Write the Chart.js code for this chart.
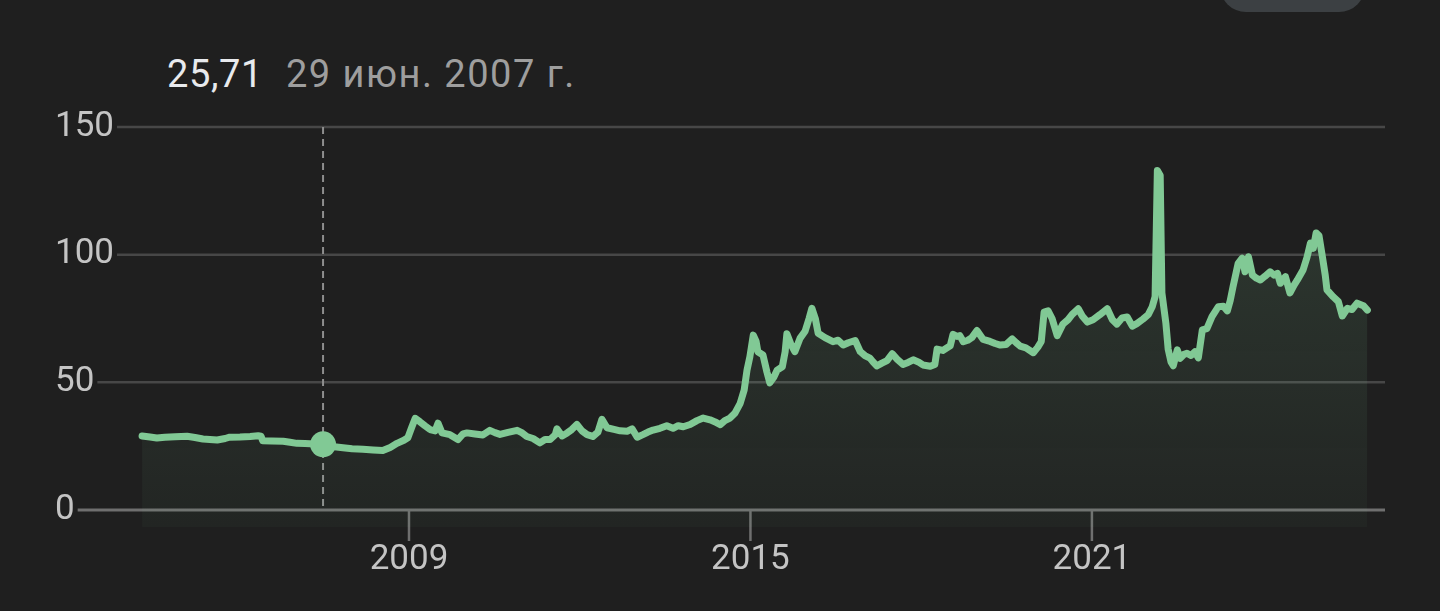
<!DOCTYPE html>
<html>
<head>
<meta charset="utf-8">
<script src="https://cdn.jsdelivr.net/npm/chart.js@4"></script>
<style>
  body { margin: 0; background: #1f1f1f; }
  #wrap { position: relative; width: 1440px; height: 611px; overflow: hidden; font-family: Roboto, sans-serif; }
  .pill { position: absolute; left: 1220px; top: -40px; width: 145px; height: 52px; border-radius: 26px; background: #3c4043; }
  .head { position: absolute; left: 167px; top: 52px; font-size: 38px; line-height: 44px; white-space: nowrap; }
  .head .val { color: #e8eaed; letter-spacing: 0.6px; }
  .head .date { color: #9e9e9e; margin-left: 23px; letter-spacing: 1.5px; }
  canvas { position: absolute; left: 0; top: 0; }
</style>
</head>
<body>
<div id="wrap">
  <div class="pill"></div>
  <div class="head"><span class="val" id="sel-val"></span><span class="date" id="sel-date"></span></div>
  <canvas id="chart" width="1440" height="611"></canvas>
</div>
<script>
// USD/RUB (decimal years)
const years = [
  2004.31, 2004.45, 2004.57, 2004.71, 2004.89, 2005.10, 2005.24, 2005.38, 2005.50, 2005.63,
  2005.77, 2005.85, 2006.03, 2006.21, 2006.35, 2006.40, 2006.43, 2006.59, 2006.79, 2006.91,
  2007.03, 2007.17, 2007.35, 2007.49, 2007.61, 2007.84, 2008.00, 2008.19, 2008.37, 2008.54,
  2008.67, 2008.79, 2008.91, 2008.98, 2009.05, 2009.11, 2009.19, 2009.28, 2009.37, 2009.46,
  2009.51, 2009.58, 2009.72, 2009.86, 2009.95, 2010.02, 2010.16, 2010.30, 2010.42, 2010.51,
  2010.60, 2010.74, 2010.90, 2010.99, 2011.07, 2011.18, 2011.30, 2011.39, 2011.48, 2011.57,
  2011.60, 2011.69, 2011.78, 2011.86, 2011.95, 2012.04, 2012.13, 2012.23, 2012.32, 2012.39,
  2012.48, 2012.62, 2012.71, 2012.83, 2012.92, 2013.01, 2013.11, 2013.20, 2013.29, 2013.41,
  2013.53, 2013.64, 2013.73, 2013.82, 2013.94, 2014.06, 2014.17, 2014.29, 2014.38, 2014.47,
  2014.55, 2014.64, 2014.73, 2014.82, 2014.89, 2014.94, 2014.99, 2015.05, 2015.10, 2015.13,
  2015.22, 2015.29, 2015.34, 2015.41, 2015.47, 2015.56, 2015.61, 2015.64, 2015.71, 2015.78,
  2015.87, 2015.96, 2016.03, 2016.08, 2016.14, 2016.19, 2016.31, 2016.45, 2016.54, 2016.63,
  2016.72, 2016.84, 2016.93, 2017.01, 2017.10, 2017.15, 2017.22, 2017.31, 2017.40, 2017.49,
  2017.58, 2017.68, 2017.77, 2017.86, 2017.95, 2018.03, 2018.16, 2018.24, 2018.28, 2018.38,
  2018.51, 2018.56, 2018.63, 2018.68, 2018.74, 2018.82, 2018.89, 2018.98, 2019.09, 2019.21,
  2019.30, 2019.39, 2019.49, 2019.60, 2019.67, 2019.74, 2019.84, 2019.97, 2020.05, 2020.11,
  2020.16, 2020.23, 2020.30, 2020.39, 2020.49, 2020.58, 2020.65, 2020.76, 2020.83, 2020.92,
  2021.02, 2021.14, 2021.27, 2021.36, 2021.44, 2021.53, 2021.62, 2021.71, 2021.79, 2021.90,
  2021.99, 2022.06, 2022.11, 2022.15, 2022.20, 2022.23, 2022.30, 2022.34, 2022.39, 2022.43,
  2022.50, 2022.55, 2022.62, 2022.67, 2022.74, 2022.81, 2022.87, 2022.94, 2023.02, 2023.11,
  2023.22, 2023.31, 2023.38, 2023.43, 2023.48, 2023.57, 2023.64, 2023.69, 2023.75, 2023.82,
  2023.89, 2023.96, 2024.04, 2024.13, 2024.20, 2024.26, 2024.31, 2024.40, 2024.48, 2024.55,
  2024.61, 2024.71, 2024.78, 2024.84, 2024.89, 2024.94, 2024.99, 2025.05, 2025.10, 2025.13,
  2025.24, 2025.33, 2025.40, 2025.49, 2025.57, 2025.66, 2025.77, 2025.84
];
const rates = [
  29.0, 28.6, 28.2, 28.5, 28.7, 28.9, 28.4, 27.8, 27.6, 27.4,
  28.0, 28.5, 28.6, 28.8, 29.1, 28.9, 27.1, 27.0, 26.9, 26.5,
  26.1, 26.0, 25.8, 25.71, 25.0, 24.4, 24.0, 23.8, 23.5, 23.3,
  24.5, 26.1, 27.3, 28.3, 32.5, 35.9, 34.6, 33.0, 31.5, 31.0,
  34.0, 30.2, 29.5, 27.6, 29.8, 30.2, 29.8, 29.4, 31.2, 30.3,
  29.6, 30.4, 31.2, 30.2, 28.8, 28.0, 26.3, 27.6, 27.6, 29.5,
  31.8, 29.0, 30.2, 31.5, 33.5, 31.0, 29.5, 28.8, 30.5, 35.5,
  32.2, 31.5, 31.0, 30.8, 31.8, 28.5, 29.5, 30.5, 31.3, 32.0,
  33.0, 32.0, 33.0, 32.6, 33.5, 35.0, 36.0, 35.3, 34.5, 33.4,
  35.0, 36.0, 38.0, 41.8, 47.0, 54.8, 60.0, 68.5, 66.0, 62.0,
  60.7, 54.0, 49.8, 52.0, 54.8, 56.1, 62.0, 69.0, 65.0, 62.0,
  67.2, 70.0, 75.0, 79.0, 75.0, 69.2, 67.5, 65.9, 66.5, 64.6,
  65.5, 66.4, 62.0, 60.5, 59.5, 58.1, 56.4, 57.5, 58.5, 61.2,
  59.0, 57.0, 57.8, 58.8, 58.0, 56.8, 56.3, 57.0, 63.0, 62.5,
  64.3, 68.8, 68.0, 68.3, 65.9, 66.5, 67.5, 70.3, 66.8, 66.0,
  65.2, 64.6, 64.8, 67.0, 65.5, 64.2, 63.5, 61.6, 63.8, 66.0,
  77.5, 78.0, 75.0, 68.3, 72.8, 74.5, 76.5, 78.8, 76.0, 73.6,
  74.5, 76.5, 78.8, 74.5, 72.8, 75.2, 75.6, 72.0, 73.0, 74.8,
  76.5, 79.6, 83.5, 133.0, 131.0, 85.0, 73.1, 63.0, 58.0, 56.5,
  62.7, 59.4, 61.0, 61.4, 60.5, 62.0, 59.6, 70.5, 71.0, 75.7,
  79.6, 79.8, 78.0, 82.0, 87.5, 96.6, 98.6, 93.3, 99.2, 92.0,
  90.8, 90.1, 91.5, 93.3, 92.0, 92.7, 88.8, 91.4, 85.0, 88.0,
  90.1, 94.0, 99.0, 104.5, 102.5, 108.5, 107.5, 99.2, 92.0, 86.2,
  83.5, 81.6, 76.0, 79.0, 78.5, 81.0, 80.0, 78.3
];
const yTicks = [0, 50, 100, 150];
const xTicks = [2009, 2015, 2021];
const selYear = 2007.49;
const selRate = 25.71;
const selText = '25,71';
const selDate = '29 июн. 2007 г.';

document.getElementById('sel-val').textContent = selText;
document.getElementById('sel-date').textContent = selDate;

const lineColor = '#81c995';

// grid, axis labels, ticks and the hover marker drawn through the scales
const decor = {
  id: 'decor',
  beforeDatasetsDraw(chart) {
    const { ctx, chartArea, scales: { x, y } } = chart;
    ctx.save();
    ctx.font = '35px Roboto';
    ctx.textBaseline = 'middle';
    ctx.textAlign = 'left';
    yTicks.forEach(v => {
      const py = y.getPixelForValue(v);
      ctx.fillStyle = '#c4c4c4';
      ctx.fillText(String(v), 55, py);
      const w = ctx.measureText(String(v)).width;
      ctx.strokeStyle = v === 0 ? '#6f6f6f' : '#474747';
      ctx.lineWidth = v === 0 ? 3 : 2.5;
      ctx.beginPath();
      ctx.moveTo(55 + w + 3, py);
      ctx.lineTo(chartArea.right, py);
      ctx.stroke();
    });
    const y0 = y.getPixelForValue(0);
    ctx.textAlign = 'center';
    xTicks.forEach(t => {
      const px = x.getPixelForValue(t);
      ctx.strokeStyle = '#6f6f6f';
      ctx.lineWidth = 2.5;
      ctx.beginPath();
      ctx.moveTo(px, y0);
      ctx.lineTo(px, y0 + 31);
      ctx.stroke();
      ctx.fillStyle = '#c4c4c4';
      ctx.fillText(String(t), px, y0 + 50);
    });
    // dashed crosshair
    const sx = x.getPixelForValue(selYear);
    ctx.strokeStyle = '#8e8e8e';
    ctx.lineWidth = 2;
    ctx.setLineDash([7, 5]);
    ctx.beginPath();
    ctx.moveTo(sx, y.getPixelForValue(150));
    ctx.lineTo(sx, y0);
    ctx.stroke();
    ctx.restore();
  },
  afterDatasetsDraw(chart) {
    const { ctx, scales: { x, y } } = chart;
    ctx.save();
    ctx.fillStyle = lineColor;
    ctx.beginPath();
    ctx.arc(x.getPixelForValue(selYear), y.getPixelForValue(selRate), 13, 0, Math.PI * 2);
    ctx.fill();
    ctx.restore();
  }
};

const ctx = document.getElementById('chart').getContext('2d');
new Chart(ctx, {
  type: 'line',
  data: {
    datasets: [{
      data: years.map((yr, i) => ({ x: yr, y: rates[i] })),
      borderColor: lineColor,
      borderWidth: 7,
      borderJoinStyle: 'round',
      borderCapStyle: 'round',
      pointRadius: 0,
      tension: 0,
      fill: 'start',
      backgroundColor: (c) => {
        const area = c.chart.chartArea;
        if (!area) return 'rgba(129,201,149,0.08)';
        const g = c.chart.ctx.createLinearGradient(0, area.top, 0, area.bottom);
        g.addColorStop(0, 'rgba(129,201,149,0.17)');
        g.addColorStop(1, 'rgba(129,201,149,0.04)');
        return g;
      }
    }]
  },
  options: {
    responsive: false,
    animation: false,
    layout: { padding: { left: 55, right: 55, top: 127, bottom: 84 } },
    plugins: { legend: { display: false }, tooltip: { enabled: false } },
    scales: {
      x: { type: 'linear', min: 2002.78, max: 2026.15, display: false },
      y: { min: -6.66, max: 150, display: false }
    }
  },
  plugins: [decor]
});
</script>
</body>
</html>
